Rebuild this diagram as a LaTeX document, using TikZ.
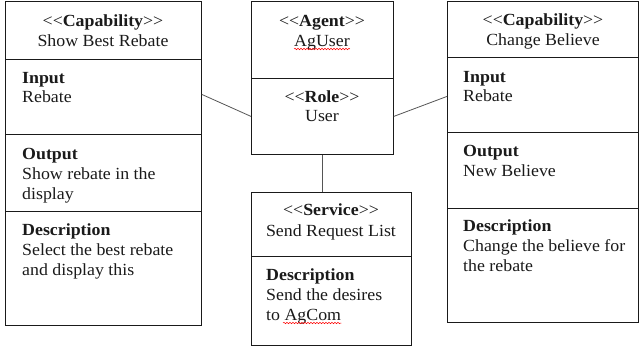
\documentclass[tikz,border=0pt]{standalone}
\usepackage{fontspec}
\setmainfont{Liberation Serif}[FakeStretch=1.05]
\usetikzlibrary{decorations.pathmorphing}
\definecolor{ink}{HTML}{1A1A1A}
\definecolor{wire}{HTML}{555555}
\tikzset{
  sect/.style={draw=ink, line width=0.8pt, rectangle, inner sep=0pt, anchor=north west},
  txt/.style={inner sep=0pt, anchor=base west, text=ink, font=\fontsize{17}{20}\selectfont},
  ttl/.style={inner sep=0pt, anchor=base, text=ink, font=\fontsize{17}{20}\selectfont},
  link/.style={draw=wire, line width=0.8pt},
  spell/.style={draw=red, line width=0.5pt, decorate,
    decoration={snake, segment length=3pt, amplitude=0.7pt}}
}
% stereotype label: two separate angle brackets on each side, name in bold
\newcommand{\stereo}[1]{\textless\kern0pt\textless\kern0pt\textbf{#1}\kern0pt\textgreater\kern0pt\textgreater}
\begin{document}
\begin{tikzpicture}[x=1pt, y=-1pt]
\useasboundingbox (0,0) rectangle (639,349);

% capability: Show Best Rebate
\node[sect, minimum width=196pt, minimum height=58pt] (lhead) at (5,1) {};
\node[sect, minimum width=196pt, minimum height=75pt] (lin)   at (5,59) {};
\node[sect, minimum width=196pt, minimum height=77pt] (lout)  at (5,134) {};
\node[sect, minimum width=196pt, minimum height=114pt] (ldesc) at (5,211) {};
\node[ttl] (lt1) at (103,26) {\stereo{Capability}};
\node[ttl] (lt2) at (103,46) {Show Best Rebate};
\node[txt] (li1) at (22,83) {\textbf{Input}};
\node[txt] (li2) at (22,102) {Rebate};
\node[txt] (lo1) at (22,159) {\textbf{Output}};
\node[txt] (lo2) at (22,179) {Show rebate in the};
\node[txt] (lo3) at (22,199) {display};
\node[txt] (ld1) at (22,235) {\textbf{Description}};
\node[txt] (ld2) at (22,255) {Select the best rebate};
\node[txt] (ld3) at (22,275) {and display this};

% agent with its role
\node[sect, minimum width=142pt, minimum height=77pt] (agent) at (251,1) {};
\node[sect, minimum width=142pt, minimum height=76pt] (role)  at (251,78) {};
\node[ttl] (at1) at (322,26) {\stereo{Agent}};
\node[ttl] (at2) at (322,46) {AgUser};
\node[ttl] (rt1) at (322,102) {\stereo{Role}};
\node[ttl] (rt2) at (322,121) {User};
\draw[spell] ([yshift=-3pt]at2.base west) -- ([yshift=-3pt]at2.base east);

% service
\node[sect, minimum width=160pt, minimum height=64pt] (shead) at (251,192) {};
\node[sect, minimum width=160pt, minimum height=89pt] (sdesc) at (251,256) {};
\node[ttl] (st1) at (331,215) {\stereo{Service}};
\node[ttl] (st2) at (331,236) {Send Request List};
\node[txt] (sd1) at (266,280) {\textbf{Description}};
\node[txt] (sd2) at (266,300) {Send the desires};
\node[txt] (sd3) at (266,320) {to AgCom};
\draw[spell] ([xshift=17pt,yshift=-3pt]sd3.base west) -- ([yshift=-3pt]sd3.base east);

% capability: Change Believe
\node[sect, minimum width=191pt, minimum height=56pt] (rhead) at (447,1) {};
\node[sect, minimum width=191pt, minimum height=75pt] (rin)   at (447,57) {};
\node[sect, minimum width=191pt, minimum height=76pt] (rout)  at (447,132) {};
\node[sect, minimum width=191pt, minimum height=114pt] (rdesc) at (447,208) {};
\node[ttl] (rh1) at (543,25) {\stereo{Capability}};
\node[ttl] (rh2) at (543,45) {Change Believe};
\node[txt] (ri1) at (463,82) {\textbf{Input}};
\node[txt] (ri2) at (463,101) {Rebate};
\node[txt] (ro1) at (463,156) {\textbf{Output}};
\node[txt] (ro2) at (463,176) {New Believe};
\node[txt] (rd1) at (463,231) {\textbf{Description}};
\node[txt] (rd2) at (463,251) {Change the believe for};
\node[txt] (rd3) at (463,271) {the rebate};

% connectors
\draw[link] ([yshift=2.5pt]lin.east) -- (role.west);
\draw[link] (role.east) -- ([yshift=-1.5pt]rin.west);
\draw[link] (role.south) -- (role.south |- shead.north);
\end{tikzpicture}
\end{document}
